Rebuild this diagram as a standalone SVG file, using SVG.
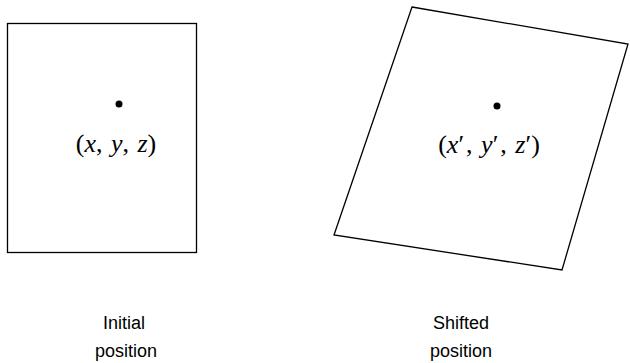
<svg xmlns="http://www.w3.org/2000/svg" width="630" height="363" viewBox="0 0 630 363">
<style>
.shape{fill:none;stroke:#000;stroke-width:1.3}
.math{font-family:"Liberation Serif",serif;font-size:26px;fill:#000;text-anchor:middle}
.it{font-style:italic}
.lbl{font-family:"Liberation Sans",Arial,sans-serif;font-size:18px;fill:#000;text-anchor:middle}
</style>
<rect width="630" height="363" fill="#fff"/>
<g id="initial">
<rect class="shape" x="7.5" y="23.5" width="189" height="229"/>
<circle cx="119" cy="104" r="3.5" fill="#000"/>
<text class="math" x="116" y="152" word-spacing="2">(<tspan class="it">x</tspan>, <tspan class="it">y</tspan>, <tspan class="it">z</tspan>)</text>
</g>
<g id="shifted">
<polygon class="shape" points="412,7 628,44 562,270 334,235"/>
<circle cx="497" cy="106" r="3.5" fill="#000"/>
<text class="math" x="489" y="153" word-spacing="2">(<tspan class="it">x</tspan>′<tspan dx="2">,</tspan> <tspan class="it">y</tspan>′<tspan dx="2">,</tspan> <tspan class="it">z</tspan>′)</text>
</g>
<g id="label-initial">
<text class="lbl" x="124" y="329">Initial</text>
<text class="lbl" x="126" y="357">position</text>
</g>
<g id="label-shifted">
<text class="lbl" x="461" y="329">Shifted</text>
<text class="lbl" x="461" y="357">position</text>
</g>
<g id="connectors"></g>
</svg>
